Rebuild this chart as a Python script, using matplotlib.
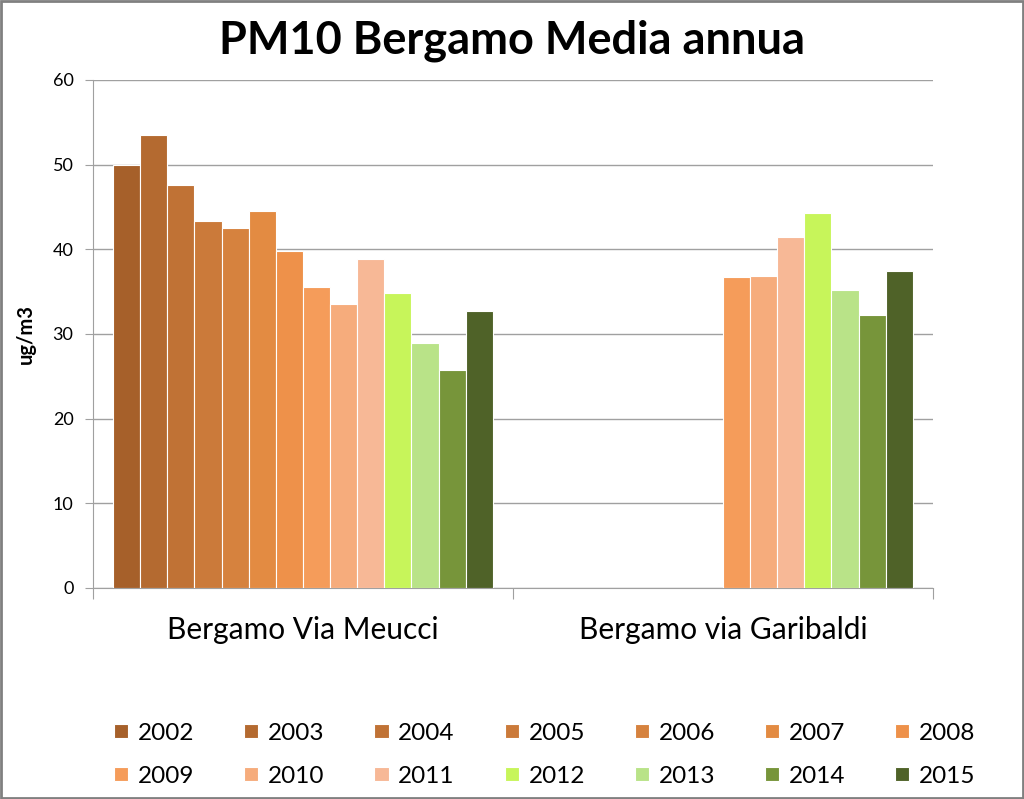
import numpy as np
import matplotlib
matplotlib.use("Agg")
import matplotlib.pyplot as plt
from matplotlib.patches import Rectangle

plt.rcParams['font.family'] = ['Lato', 'DejaVu Sans']

stations = ['Bergamo Via Meucci', 'Bergamo via Garibaldi']
years = ['2002', '2003', '2004', '2005', '2006', '2007', '2008',
         '2009', '2010', '2011', '2012', '2013', '2014', '2015']
meucci = [50.0, 53.5, 47.6, 43.3, 42.5, 44.5, 39.8,
          35.5, 33.6, 38.8, 34.8, 28.9, 25.7, 32.7]
garibaldi = [np.nan, np.nan, np.nan, np.nan, np.nan, np.nan, np.nan,
             36.7, 36.8, 41.4, 44.3, 35.2, 32.2, 37.4]
colors = ['#A6602A', '#B46A30', '#C07235', '#CB7A3A', '#D6823E', '#E38B42', '#EE914A',
          '#F59C5A', '#F6AC7C', '#F7B896', '#C7F55A', '#B9E388', '#77953A', '#4F6228']

fig = plt.figure(figsize=(10.24, 7.99), dpi=100)
ax = fig.add_axes([0.0908, 0.2641, 0.8203, 0.6358])

n = len(years)
w = 0.904 / n
x = np.arange(len(stations))
for i, yr in enumerate(years):
    vals = [meucci[i], garibaldi[i]]
    ax.bar(x - 0.452 + w * (i + 0.5), vals, width=w, color=colors[i],
           edgecolor='white', linewidth=0.8, label=yr, zorder=3)

ax.set_xlim(-0.5, 1.5)
ax.set_ylim(0, 60)
ax.set_yticks(range(0, 61, 10))
ax.yaxis.grid(True, color='#A0A0A0', linewidth=1, zorder=0)
ax.set_xticks([-0.5, 0.5, 1.5])
ax.set_xticklabels([])
ax.set_xticks(x, minor=True)
ax.set_xticklabels(stations, minor=True, fontsize=21.5)
ax.tick_params(axis='x', which='minor', length=0, pad=20)
ax.tick_params(axis='x', which='major', length=8, color='#A0A0A0')
ax.tick_params(axis='y', length=6, color='#A0A0A0', labelsize=13, pad=8)
for s in ['top', 'right']:
    ax.spines[s].set_visible(False)
for s in ['left', 'bottom']:
    ax.spines[s].set_color('#A0A0A0')
ax.set_ylabel('ug/m3', fontsize=14.5, fontweight='bold', labelpad=12)

fig.suptitle('PM10 Bergamo Media annua', fontsize=32.5, fontweight='bold', y=0.975)

# legend filled row by row, 7 per row
handles, labels = ax.get_legend_handles_labels()
order = [k for pair in zip(range(7), range(7, 14)) for k in pair]
fig.legend([handles[k] for k in order], [labels[k] for k in order],
           loc='lower center', bbox_to_anchor=(0.532, -0.012), ncol=7, frameon=False,
           fontsize=17.5, handlelength=0.58, handleheight=0.5, columnspacing=2.05,
           handletextpad=0.4, labelspacing=0.9)

fig.add_artist(Rectangle((0.001, 0.001), 0.998, 0.998, transform=fig.transFigure,
                         fill=False, edgecolor='#808080', linewidth=2))

fig.savefig('out.png', dpi=100)
